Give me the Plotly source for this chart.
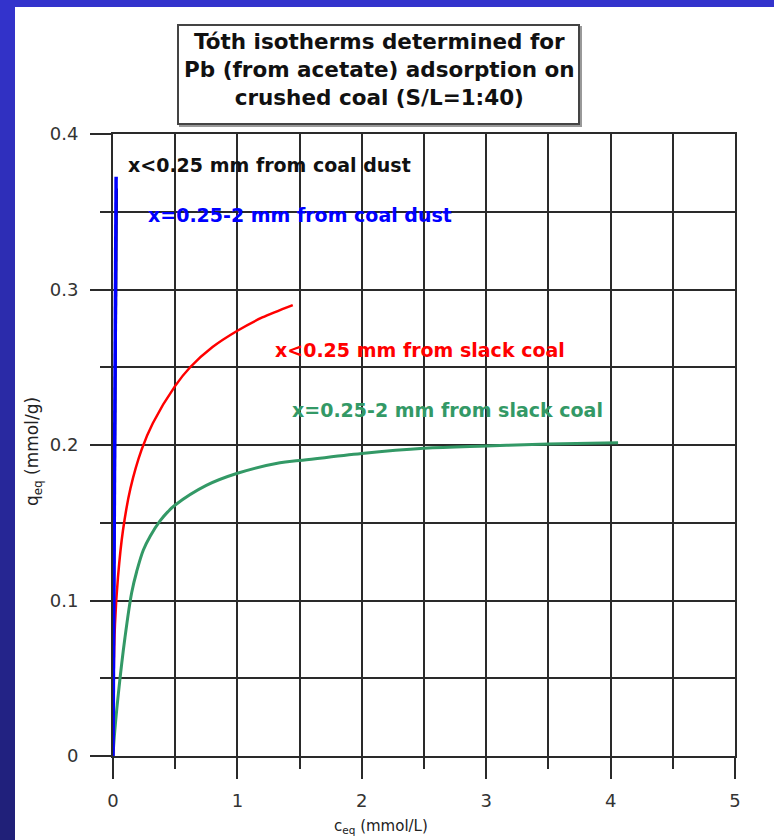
import plotly.graph_objects as go

# ---------------- data ----------------
red_x = [0, 0.005, 0.016, 0.04, 0.08, 0.14, 0.23, 0.32, 0.5, 0.62, 0.8, 1.0, 1.2, 1.445]
red_y = [0, 0.05, 0.085, 0.115, 0.145, 0.172, 0.197, 0.214, 0.238, 0.25, 0.263, 0.2735, 0.282, 0.290]

green_x = [0, 0.01, 0.043, 0.096, 0.15, 0.19, 0.244, 0.3, 0.378, 0.44, 0.5, 0.75, 1.0, 1.342, 1.5, 2.0, 2.5, 3.0, 3.5, 4.06]
green_y = [0, 0.012, 0.040, 0.076, 0.105, 0.1185, 0.1325, 0.1415, 0.1512, 0.157, 0.1614, 0.174, 0.1818, 0.1886, 0.190, 0.1946, 0.1979, 0.1994, 0.2006, 0.2015]

black_x = [0, 0.008, 0.016, 0.024, 0.032]
black_y = [0, 0.1, 0.2, 0.3, 0.365]

blue_x = [0, 0.006, 0.011, 0.017, 0.022, 0.025]
blue_y = [0, 0.1, 0.2, 0.3, 0.355, 0.3725]

x_ticks = [0, 1, 2, 3, 4, 5]
y_ticks = [0, 0.1, 0.2, 0.3, 0.4]

title_lines = ["Tóth isotherms determined for",
               "Pb (from acetate) adsorption on",
               "crushed coal (S/L=1:40)"]

labels = ["x<0.25 mm from coal dust", "x=0.25-2 mm from coal dust",
          "x<0.25 mm from slack coal", "x=0.25-2 mm from slack coal"]
label_x = [0.102, 0.262, 1.286, 1.423]
label_y = [0.380, 0.348, 0.261, 0.2225]
label_colors = ["#111111", "#0000FF", "#FF0000", "#339966"]

# ---------------- figure ----------------
W, H = 774, 840
L, R, T, B = 113, 39, 134, 84
PW, PH = W - L - R, H - T - B

def px(xp):
    return (xp - L) / PW

def py(yp):
    return (H - B - yp) / PH

fig = go.Figure()
fig.add_trace(go.Scatter(x=green_x, y=green_y, mode="lines",
                         line=dict(color="#339966", width=3, shape="spline", smoothing=1), showlegend=False))
fig.add_trace(go.Scatter(x=red_x, y=red_y, mode="lines",
                         line=dict(color="#FF0000", width=2.5, shape="spline", smoothing=0.8), showlegend=False))
fig.add_trace(go.Scatter(x=black_x, y=black_y, mode="lines", line=dict(color="#111111", width=2), showlegend=False))
fig.add_trace(go.Scatter(x=blue_x, y=blue_y, mode="lines", line=dict(color="#0000FF", width=3.5), showlegend=False))

shapes = []
# white panel
shapes.append(dict(type="rect", xref="paper", yref="paper", x0=px(15), x1=px(800), y0=py(880), y1=py(7),
                   fillcolor="white", line=dict(width=0), layer="below"))
# left gradient strip
n = 42
for i in range(n):
    y0p = i * H / n
    y1p = (i + 1) * H / n + 1
    f = i / (n - 1)
    r = int(51 + (32 - 51) * f)
    b = int(204 + (120 - 204) * f)
    shapes.append(dict(type="rect", xref="paper", yref="paper", x0=px(-5), x1=px(15), y0=py(y1p), y1=py(y0p),
                       fillcolor=f"rgb({r},{r},{b})", line=dict(width=0), layer="below"))
# title box (shadow + box)
shapes.append(dict(type="rect", xref="paper", yref="paper", x0=px(180), x1=px(581), y0=py(126), y1=py(27),
                   fillcolor="rgba(0,0,0,0)", line=dict(color="#999999", width=2), layer="above"))
shapes.append(dict(type="rect", xref="paper", yref="paper", x0=px(178), x1=px(579), y0=py(124), y1=py(25),
                   fillcolor="white", line=dict(color="#444444", width=2), layer="above"))

annotations = []
annotations.append(dict(text="<br>".join(title_lines), xref="paper", yref="paper", x=px(379), y=py(70),
                        xanchor="center", yanchor="middle", align="center", showarrow=False,
                        font=dict(family="DejaVu Sans", size=21.5, color="#111111", weight="bold")))
for t, x, y, c in zip(labels, label_x, label_y, label_colors):
    annotations.append(dict(text=f"<b>{t}</b>", x=x, y=y, xref="x", yref="y", xanchor="left", yanchor="middle",
                            showarrow=False, font=dict(family="DejaVu Sans", size=19, color=c)))
# axis titles
annotations.append(dict(text="c<sub>eq</sub> (mmol/L)", xref="paper", yref="paper", x=px(381), y=py(826),
                        xanchor="center", yanchor="middle", showarrow=False,
                        font=dict(family="DejaVu Sans", size=15, color="#222222")))
annotations.append(dict(text="q<sub>eq</sub> (mmol/g)", xref="paper", yref="paper", x=px(33), y=py(452),
                        xanchor="center", yanchor="middle", showarrow=False, textangle=-90,
                        font=dict(family="DejaVu Sans", size=17, color="#222222")))

gridc = "#2a2a2a"
fig.update_layout(
    width=W, height=H,
    margin=dict(l=L, r=R, t=T, b=B, pad=0),
    paper_bgcolor="#3333CC",
    plot_bgcolor="white",
    shapes=shapes,
    annotations=annotations,
    font=dict(family="DejaVu Sans", size=18, color="#222222"),
    xaxis=dict(range=[0, 5], tickvals=x_ticks, ticks="outside", ticklen=21, tickwidth=2, tickcolor=gridc,
               showgrid=True, gridcolor=gridc, gridwidth=2, zeroline=False,
               showline=True, linecolor=gridc, linewidth=2, mirror=True,
               minor=dict(dtick=0.5, ticks="outside", ticklen=11, tickwidth=2, tickcolor=gridc,
                          showgrid=True, gridcolor=gridc, gridwidth=2),
               ticklabelstandoff=6, tickfont=dict(size=18, color="#333333")),
    yaxis=dict(range=[0, 0.4], tickvals=y_ticks, ticks="outside", ticklen=21, tickwidth=2, tickcolor=gridc,
               showgrid=True, gridcolor=gridc, gridwidth=2, zeroline=False,
               showline=True, linecolor=gridc, linewidth=2, mirror=True,
               minor=dict(dtick=0.05, ticks="outside", ticklen=11, tickwidth=2, tickcolor=gridc,
                          showgrid=True, gridcolor=gridc, gridwidth=2),
               ticklabelstandoff=8, tickfont=dict(size=18, color="#333333")),
)

fig.write_html("out.html")
